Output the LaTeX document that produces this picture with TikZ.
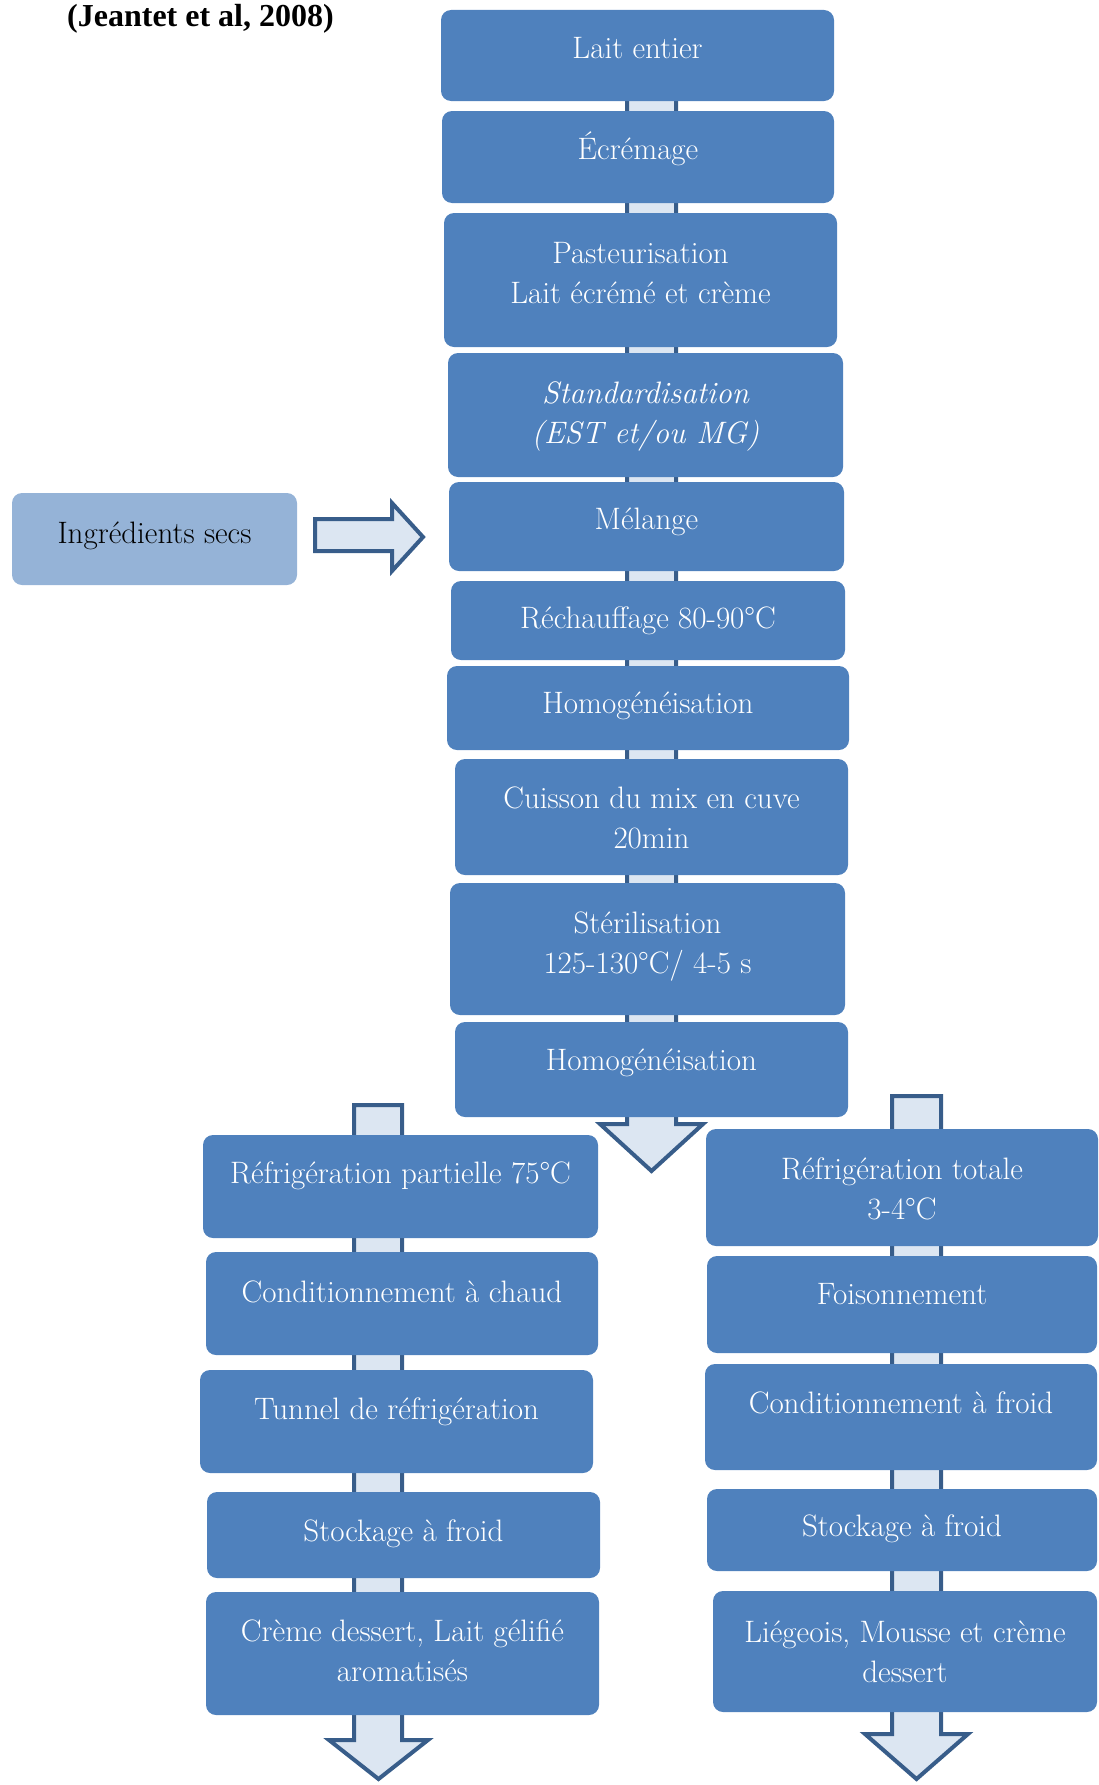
\documentclass[tikz,border=0pt]{standalone}
\usepackage{fontspec}
\newfontfamily\titlefont{Liberation Serif}
\definecolor{boxblue}{HTML}{4F81BD}
\definecolor{flowfill}{HTML}{DCE6F2}
\definecolor{flowedge}{HTML}{385D8A}
\definecolor{ingfill}{HTML}{95B3D7}
\newcommand\boxfontsetup{\addfontfeatures{LetterSpace=3,WordSpace=2.5}\fontsize{31}{40}\selectfont}
\begin{document}
\begin{tikzpicture}[x=1pt,y=-1pt,
  box/.style={fill=boxblue, rounded corners=10pt, inner sep=0pt, draw=none},
  ingbox/.style={fill=ingfill, rounded corners=10pt, inner sep=0pt, draw=none},
  lbl/.style={text=white, anchor=base, inner sep=0pt, font=\boxfontsetup},
  flow/.style={fill=flowfill, draw=flowedge, line width=4pt, line join=miter}]
\useasboundingbox (0,0) rectangle (1098,1785);

% title
\node[anchor=base west, inner sep=0pt, font=\titlefont\bfseries\fontsize{32}{38}\selectfont] (title) at (67,27) {(Jeantet et al, 2008)};

% named end points of the block arrows
\coordinate (ctip) at (651.5,1171);
\coordinate (ltip) at (378.5,1779);
\coordinate (rtip) at (916.5,1779);

% block arrows (behind the boxes)
\draw[flow] (627,60) -- (627,1124) -- (600,1124) -- (ctip) -- (703,1124) -- (676,1124) -- (676,60) -- cycle;
\draw[flow] (354,1105) -- (354,1740) -- (329,1740) -- (ltip) -- (428,1740) -- (402,1740) -- (402,1105) -- cycle;
\draw[flow] (892,1096) -- (892,1734) -- (865,1734) -- (rtip) -- (968,1734) -- (941,1734) -- (941,1096) -- cycle;

% central column
\node[box, minimum width=393pt, minimum height=91pt] (c1) at (637.5,55.5) {};
\node[box, minimum width=392pt, minimum height=92pt] (c2) at (638,157) {};
\node[box, minimum width=393pt, minimum height=134pt] (c3) at (640.5,280) {};
\node[box, minimum width=395pt, minimum height=124pt] (c4) at (645.5,415) {};
\node[box, minimum width=395pt, minimum height=89pt] (c5) at (646.5,526.5) {};
\node[box, minimum width=394pt, minimum height=79pt] (c6) at (648,620.5) {};
\node[box, minimum width=402pt, minimum height=84pt] (c7) at (648,708) {};
\node[box, minimum width=393pt, minimum height=116pt] (c8) at (651.5,817) {};
\node[box, minimum width=395pt, minimum height=132pt] (c9) at (647.5,949) {};
\node[box, minimum width=393pt, minimum height=95pt] (c10) at (651.5,1069.5) {};

% left column
\node[box, minimum width=395pt, minimum height=103pt] (l1) at (400.5,1186.5) {};
\node[box, minimum width=392pt, minimum height=103pt] (l2) at (402,1303.5) {};
\node[box, minimum width=393pt, minimum height=103pt] (l3) at (396.5,1421.5) {};
\node[box, minimum width=393pt, minimum height=86pt] (l4) at (403.5,1535) {};
\node[box, minimum width=393pt, minimum height=123pt] (l5) at (402.5,1653.5) {};

% right column
\node[box, minimum width=392pt, minimum height=117pt] (r1) at (902,1187.5) {};
\node[box, minimum width=390pt, minimum height=97pt] (r2) at (902,1304.5) {};
\node[box, minimum width=392pt, minimum height=106pt] (r3) at (901,1417) {};
\node[box, minimum width=390pt, minimum height=82pt] (r4) at (902,1530) {};
\node[box, minimum width=384pt, minimum height=121pt] (r5) at (905,1651.5) {};

% dry ingredients and its arrow
\node[ingbox, minimum width=285pt, minimum height=92pt] (ing) at (154.5,539) {};
\coordinate (itip) at (423,537);
\draw[flow] (315,519) -- (392,519) -- (392,503) -- (itip) -- (392,571) -- (392,551) -- (315,551) -- cycle;

% texts
\node[lbl] (t1) at (c1.center |- 0,59) {Lait entier};
\node[lbl] (t2) at (c2.center |- 0,159.5) {Écrémage};
\node[lbl] (t3) at (c3.center |- 0,263) {\begin{tabular}[t]{@{}c@{}}Pasteurisation\\Lait écrémé et crème\end{tabular}};
\node[lbl, font=\boxfontsetup\itshape] (t4) at (c4.center |- 0,403) {\begin{tabular}[t]{@{}c@{}}Standardisation\\(EST et/ou MG)\end{tabular}};
\node[lbl] (t5) at (c5.center |- 0,529.5) {Mélange};
\node[lbl] (t6) at (c6.center |- 0,628) {Réchauffage 80-90°C};
\node[lbl] (t7) at (c7.center |- 0,713) {Homogénéisation};
\node[lbl] (t8) at (c8.center |- 0,808) {\begin{tabular}[t]{@{}c@{}}Cuisson du mix en cuve\\20min\end{tabular}};
\node[lbl] (t9) at (c9.center |- 0,933) {\begin{tabular}[t]{@{}c@{}}Stérilisation\\125-130°C/ 4-5 s\end{tabular}};
\node[lbl] (t10) at (c10.center |- 0,1070) {Homogénéisation};

\node[lbl] (tl1) at (l1.center |- 0,1183) {Réfrigération partielle 75°C};
\node[lbl] (tl2) at (l2.center |- 0,1302) {Conditionnement à chaud};
\node[lbl] (tl3) at (l3.center |- 0,1419) {Tunnel de réfrigération};
\node[lbl] (tl4) at (l4.center |- 0,1541) {Stockage à froid};
\node[lbl] (tl5) at (l5.center |- 0,1641) {\begin{tabular}[t]{@{}c@{}}Crème dessert, Lait gélifié\\aromatisés\end{tabular}};

\node[lbl] (tr1) at (r1.center |- 0,1179) {\begin{tabular}[t]{@{}c@{}}Réfrigération totale\\3-4°C\end{tabular}};
\node[lbl] (tr2) at (r2.center |- 0,1304) {Foisonnement};
\node[lbl] (tr3) at (r3.center |- 0,1413) {Conditionnement à froid};
\node[lbl] (tr4) at (r4.center |- 0,1536) {Stockage à froid};
\node[lbl] (tr5) at (r5.center |- 0,1642) {\begin{tabular}[t]{@{}c@{}}Liégeois, Mousse et crème\\dessert\end{tabular}};

\node[lbl, text=black] (ting) at (ing.center |- 0,543) {Ingrédients secs};
\end{tikzpicture}
\end{document}
